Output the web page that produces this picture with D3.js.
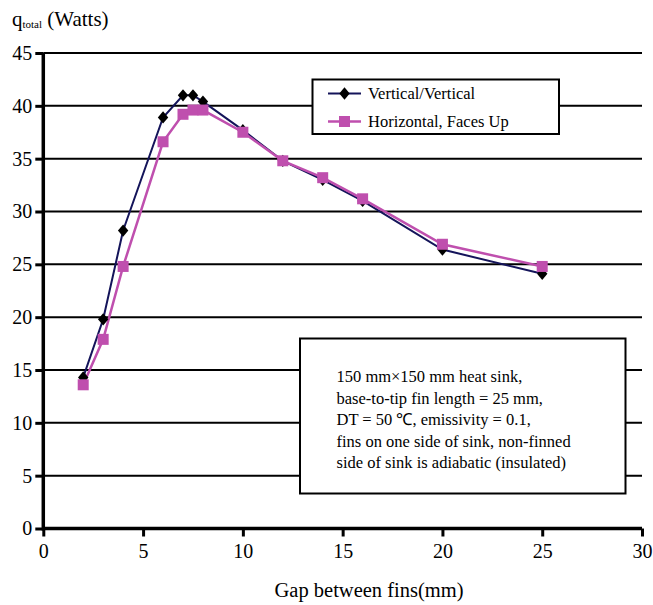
<!DOCTYPE html>
<html><head><meta charset="utf-8">
<script src="https://cdn.jsdelivr.net/npm/d3@7"></script>
</head><body style="margin:0;background:#fff">
<script>
const gaps = [2, 3, 4, 6, 7, 7.5, 8, 10, 12, 14, 16, 20, 25];
const vertical = [14.3, 19.8, 28.2, 38.9, 41.0, 41.0, 40.4, 37.7, 34.8, 33.0, 31.0, 26.4, 24.1];
const horizontal = [13.6, 17.9, 24.8, 36.6, 39.2, 39.6, 39.6, 37.5, 34.8, 33.2, 31.2, 26.9, 24.8];
const xTicks = [0, 5, 10, 15, 20, 25, 30];
const yTicks = [0, 5, 10, 15, 20, 25, 30, 35, 40, 45];
const seriesNames = ["Vertical/Vertical", "Horizontal, Faces Up"];
const noteLines = ["150 mm\u00d7150 mm heat sink,", "base-to-tip fin length =  25 mm,", "DT = 50 \u2103, emissivity = 0.1,", "fins on one side of sink, non-finned", "side of sink is adiabatic (insulated)"];

const FONT = '"Times New Roman", "Liberation Serif", serif';
const W = 653, H = 605;
const svg = d3.select("body").append("svg").attr("width", W).attr("height", H).style("display", "block");
const x = d3.scaleLinear().domain([0, 30]).range([43.3, 642]);
const y = d3.scaleLinear().domain([0, 45]).range([528.5, 53]);

// gridlines
svg.append("g").selectAll("line").data(yTicks.filter(d => d > 0)).join("line")
  .attr("x1", x(0)).attr("x2", x(30)).attr("y1", d => y(d)).attr("y2", d => y(d))
  .attr("stroke", "#000").attr("stroke-width", 2);

// y axis
const ya = svg.append("g").attr("transform", `translate(${x(0)},0)`)
  .call(d3.axisLeft(y).tickValues(yTicks).tickSize(8).tickPadding(3).tickFormat(d3.format("d")));
ya.select(".domain").attr("stroke-width", 3.5).attr("d", `M0,${y(0)+2}V${y(45)}`);
ya.selectAll(".tick line").attr("stroke-width", 3);
ya.selectAll(".tick text").attr("font-size", 20).attr("fill", "#000").style("font-family", FONT);

// x axis
const xa = svg.append("g").attr("transform", `translate(0,${y(0)})`)
  .call(d3.axisBottom(x).tickValues(xTicks).tickSize(8).tickPadding(7).tickFormat(d3.format("d")));
xa.select(".domain").attr("stroke-width", 3.5).attr("d", `M${x(0)},0H${x(30)}`);
xa.selectAll(".tick line").attr("stroke-width", 3);
xa.selectAll(".tick text").attr("font-size", 20).attr("fill", "#000").style("font-family", FONT);

// annotation box
const nb = svg.append("g");
nb.append("rect").attr("x", 300).attr("y", 338.5).attr("width", 325.5).attr("height", 155)
  .attr("fill", "#fff").attr("stroke", "#000").attr("stroke-width", 2);
nb.selectAll("text").data(noteLines).join("text")
  .attr("x", 336.5).attr("y", (d, i) => 382 + i * 21.6).attr("font-size", 16.5)
  .style("font-family", FONT).text(d => d);

// series
const colV = "#14145a", colH = "#bf4fae";
const line = d3.line().x(d => x(d[0])).y(d => y(d[1]));
const dv = gaps.map((g, i) => [g, vertical[i]]);
const dh = gaps.map((g, i) => [g, horizontal[i]]);
svg.append("path").datum(dv).attr("d", line).attr("fill", "none").attr("stroke", colV).attr("stroke-width", 2);
svg.append("path").datum(dh).attr("d", line).attr("fill", "none").attr("stroke", colH).attr("stroke-width", 2.5);
const diamond = d3.symbol().type(d3.symbolDiamond).size(60);
svg.append("g").selectAll("path").data(dv).join("path")
  .attr("d", diamond).attr("transform", d => `translate(${x(d[0])},${y(d[1])}) scale(1.25,0.85)`).attr("fill", "#000");
svg.append("g").selectAll("rect").data(dh).join("rect")
  .attr("x", d => x(d[0]) - 5.5).attr("y", d => y(d[1]) - 5.5).attr("width", 11).attr("height", 11).attr("fill", colH);

// legend
const lg = svg.append("g");
lg.append("rect").attr("x", 312.5).attr("y", 79.5).attr("width", 246.5).attr("height", 54.5)
  .attr("fill", "#fff").attr("stroke", "#000").attr("stroke-width", 2);
const rows = [93.5, 121.5];
lg.append("line").attr("x1", 328).attr("x2", 361).attr("y1", rows[0]).attr("y2", rows[0]).attr("stroke", colV).attr("stroke-width", 2);
lg.append("path").attr("d", diamond).attr("transform", `translate(344.5,${rows[0]}) scale(1.25,0.85)`).attr("fill", "#000");
lg.append("line").attr("x1", 328).attr("x2", 361).attr("y1", rows[1]).attr("y2", rows[1]).attr("stroke", colH).attr("stroke-width", 2.5);
lg.append("rect").attr("x", 339).attr("y", rows[1] - 5.5).attr("width", 11).attr("height", 11).attr("fill", colH);
lg.selectAll("text").data(seriesNames).join("text")
  .attr("x", 368).attr("y", (d, i) => rows[i] + 5.5).attr("font-size", 16.5)
  .style("font-family", FONT).text(d => d);

// titles
const yt = svg.append("text").attr("x", 12).attr("y", 26).attr("font-size", 21).style("font-family", FONT);
yt.append("tspan").text("q");
yt.append("tspan").attr("font-size", 11).attr("dy", 2).text("total");
yt.append("tspan").attr("dy", -2).text(" (Watts)");
svg.append("text").attr("x", 369).attr("y", 597).attr("text-anchor", "middle").attr("font-size", 20.5)
  .style("font-family", FONT).text("Gap between fins(mm)");
</script>
</body></html>
